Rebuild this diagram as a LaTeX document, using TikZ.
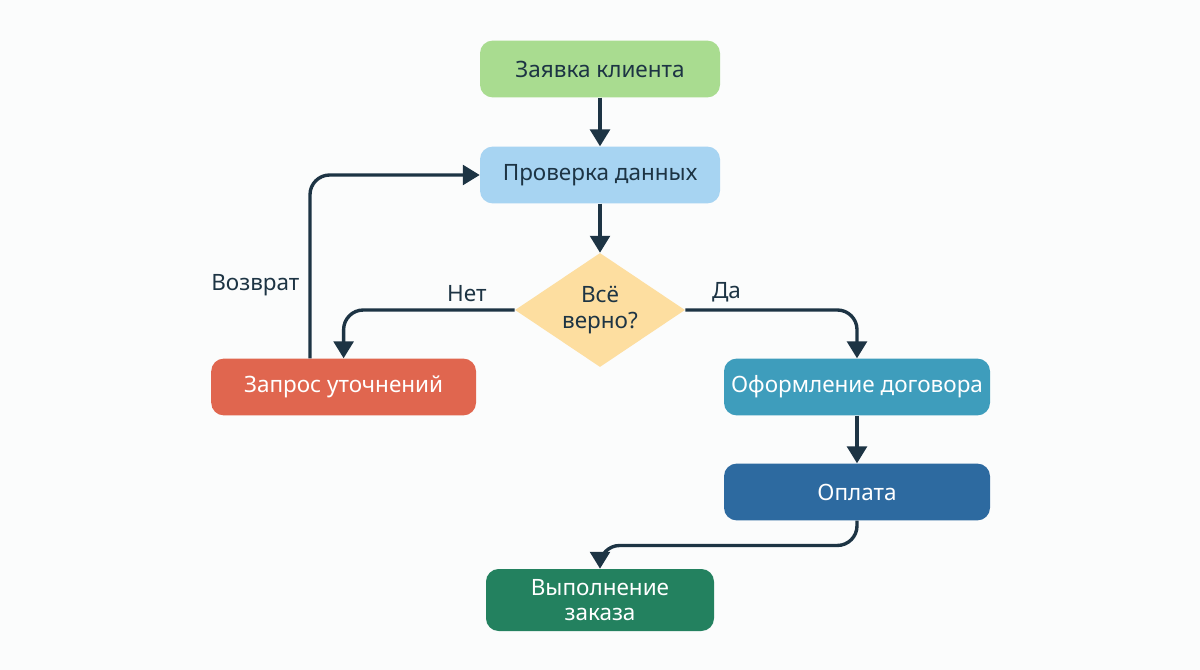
\documentclass[tikz,border=0pt]{standalone}
\usepackage{fontspec}
\setmainfont{Noto Sans}
\usetikzlibrary{shapes.geometric,arrows.meta,positioning}
\definecolor{fcInk}{HTML}{1D3444}
\definecolor{fcPaper}{HTML}{FBFCFC}
\definecolor{fcLime}{HTML}{A9DC90}
\definecolor{fcSky}{HTML}{A7D4F2}
\definecolor{fcSand}{HTML}{FDDEA0}
\definecolor{fcCoral}{HTML}{E0664F}
\definecolor{fcTeal}{HTML}{3E9DBC}
\definecolor{fcNavy}{HTML}{2D6AA0}
\definecolor{fcPine}{HTML}{23815F}
\tikzset{
  box/.style={rounded corners=9pt, minimum width=6cm, minimum height=1.42cm, inner sep=3pt, font=\fontsize{16}{19}\selectfont, text=fcInk, align=center},
  boxL/.style={box, fill=fcLime},
  boxS/.style={box, fill=fcSky},
  boxC/.style={box, fill=fcCoral, text=white, minimum width=6.62cm},
  boxT/.style={box, fill=fcTeal, text=white, minimum width=6.65cm},
  boxN/.style={box, fill=fcNavy, text=white, minimum width=6.65cm},
  boxP/.style={box, fill=fcPine, text=white, minimum width=5.7cm, minimum height=1.55cm, font=\fontsize{16}{18}\selectfont},
  dec/.style={diamond, fill=fcSand, minimum width=4.25cm, minimum height=2.85cm, inner sep=-2.5pt, font=\fontsize{16}{18.5}\selectfont, text=fcInk, align=center},
  arr/.style={-{Triangle[length=12pt, width=14pt]}, line width=2.4pt, draw=fcInk, rounded corners=14pt},
  lbl/.style={font=\fontsize{16}{19}\selectfont, text=fcInk},
}
\begin{document}
\begin{tikzpicture}
  \fill[fcPaper] (0,0) rectangle (30,-16.75);
  \node[boxL] (zayavka) at (15,-1.725) {Заявка клиента};
  \node[boxS] (proverka) at (15,-4.375) {Проверка данных};
  \node[dec] (check) at (15,-7.75) {Всё\\верно?};
  \node[boxC] (zapros) at (8.59,-9.675) {Запрос уточнений};
  \node[boxT] (oform) at (21.425,-9.675) {Оформление договора};
  \node[boxN] (oplata) at (21.425,-12.3) {Оплата};
  \node[boxP] (vypoln) at (15,-15) {Выполнение\\заказа};
  \draw[arr] (zayavka) -- (proverka);
  \draw[arr] (proverka) -- (check);
  \draw[arr] (check.west) -| node[lbl, pos=0.14, above=1pt] {Нет} (zapros.north);
  \draw[arr] (check.east) -| node[lbl, pos=0.12, above=1pt] {Да} (oform.north);
  \draw[arr] ([xshift=-0.84cm]zapros.north) |- node[lbl, pos=0.2, left=3pt] {Возврат} (proverka.west);
  \draw[arr] (oform) -- (oplata);
  \draw[arr] (oplata.south) -- ++(0,-0.62) -| (vypoln.north);
\end{tikzpicture}
\end{document}
